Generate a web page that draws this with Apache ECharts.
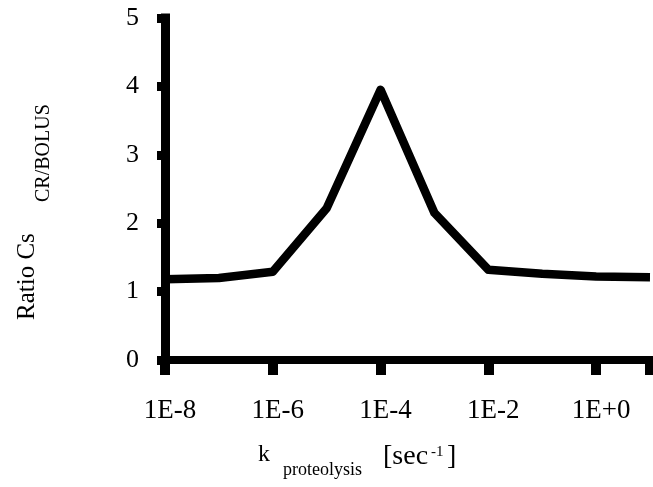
<!DOCTYPE html>
<html>
<head>
<meta charset="utf-8">
<script src="https://cdn.jsdelivr.net/npm/echarts@6/dist/echarts.min.js"></script>
<style>
  html, body { margin: 0; padding: 0; background: #fff; }
  #chart { width: 653px; height: 487px; }
</style>
</head>
<body>
<div id="chart"></div>
<script>
// Proteolysis rate constant, as decimal exponents (k = 1E<exp> per second)
const kExponents = [-8, -7, -6, -5, -4, -3, -2, -1, 0, 1];
// Ratio of Cs, controlled release vs. bolus
const ratioValues = [1.18, 1.20, 1.29, 2.22, 3.95, 2.15, 1.32, 1.26, 1.22, 1.21];
// Tick values for both axes
const xTickValues = [-8, -6, -4, -2, 0];
const yTickValues = [0, 1, 2, 3, 4, 5];

const SERIF = '"Liberation Serif", "Times New Roman", serif';
const INK = '#000';

function expLabel(v) {
  if (xTickValues.indexOf(v) < 0) return '';
  return '1E' + (v >= 0 ? '+' : '-') + Math.abs(v);
}

const chart = echarts.init(document.getElementById('chart'), null, { renderer: 'canvas' });

chart.setOption({
  backgroundColor: '#fff',
  animation: false,
  grid: { left: 165, top: 18, right: -4, bottom: 127, containLabel: false },
  xAxis: {
    type: 'value',
    min: -8,
    max: 1,
    interval: 2,
    splitLine: { show: false },
    axisLine: { show: true, onZero: false, lineStyle: { color: INK, width: 8, cap: 'square' } },
    axisTick: { show: true, length: 15, lineStyle: { color: INK, width: 10 } },
    axisLabel: {
      formatter: expLabel,
      fontFamily: SERIF,
      fontSize: 27,
      color: INK,
      margin: 37,
      padding: [0, 0, 0, 10]
    }
  },
  yAxis: {
    type: 'value',
    min: yTickValues[0],
    max: yTickValues[yTickValues.length - 1],
    interval: 1,
    splitLine: { show: false },
    axisLine: { show: true, onZero: false, lineStyle: { color: INK, width: 9, cap: 'square' } },
    axisTick: { show: true, length: 8, lineStyle: { color: INK, width: 9 } },
    axisLabel: {
      fontFamily: SERIF,
      fontSize: 26,
      color: INK,
      margin: 26
    }
  },
  series: [{
    type: 'line',
    data: kExponents.map((e, i) => [e, ratioValues[i]]),
    showSymbol: false,
    symbol: 'none',
    clip: true,
    lineStyle: { color: INK, width: 8.5, join: 'round' }
  }],
  graphic: [
    // y-axis title, reading bottom to top
    {
      type: 'text', x: 27, y: 320, rotation: Math.PI / 2,
      style: { text: 'Ratio Cs', font: '25px ' + SERIF, fill: INK, align: 'left', verticalAlign: 'middle' }
    },
    {
      type: 'text', x: 44, y: 202, rotation: Math.PI / 2,
      style: { text: 'CR/BOLUS', font: '20px ' + SERIF, fill: INK, align: 'left', verticalAlign: 'middle' }
    },
    // x-axis title
    {
      type: 'text', x: 258, y: 455,
      style: { text: 'k', font: '24px ' + SERIF, fill: INK, align: 'left', verticalAlign: 'middle' }
    },
    {
      type: 'text', x: 283, y: 470,
      style: { text: 'proteolysis', font: '18px ' + SERIF, fill: INK, align: 'left', verticalAlign: 'middle' }
    },
    {
      type: 'text', x: 383, y: 457,
      style: { text: '[sec', font: '28px ' + SERIF, fill: INK, align: 'left', verticalAlign: 'middle' }
    },
    {
      type: 'text', x: 431, y: 452,
      style: { text: '-1', font: '15px ' + SERIF, fill: INK, align: 'left', verticalAlign: 'middle' }
    },
    {
      type: 'text', x: 447, y: 457,
      style: { text: ']', font: '28px ' + SERIF, fill: INK, align: 'left', verticalAlign: 'middle' }
    }
  ]
});
</script>
</body>
</html>
